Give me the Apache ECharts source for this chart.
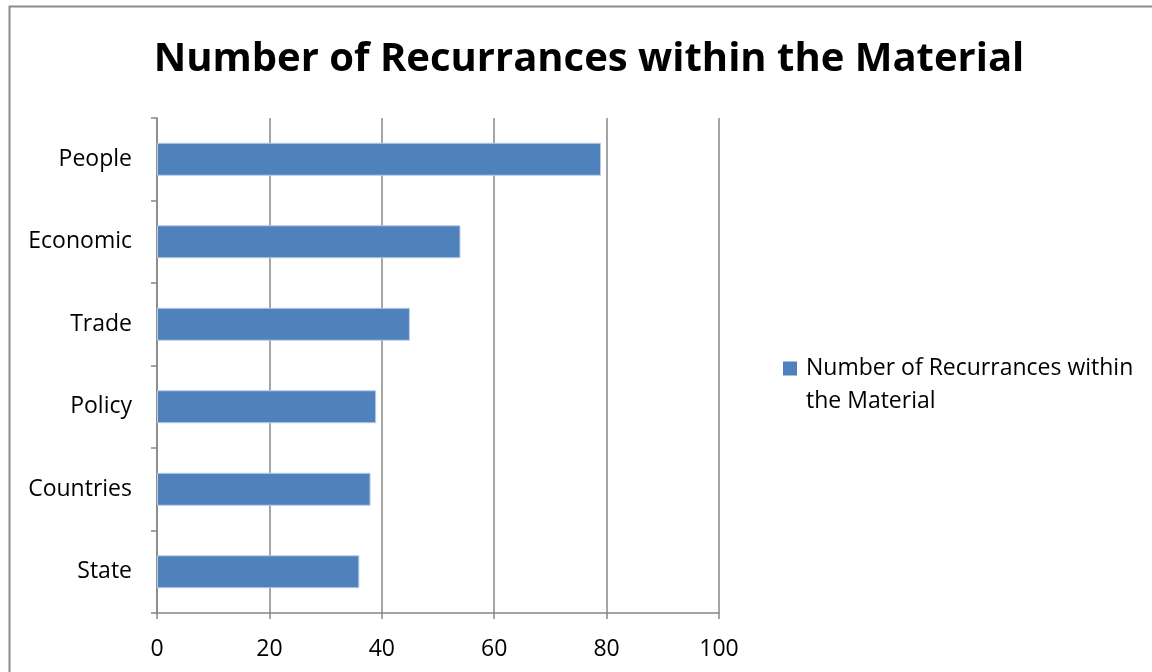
<!DOCTYPE html>
<html lang="en">
<head>
	<meta charset="UTF-8">
	<title>Number of Recurrances within the Material</title>
	<style>
		html, body { margin: 0; padding: 0; background: #fff; }
		#chart { width: 1152px; height: 672px; }
	</style>
</head>
<body>
	<div id="chart"></div>
<script src="https://cdn.jsdelivr.net/npm/echarts@6/dist/echarts.min.js"></script>
<script>
	var categories = ['People', 'Economic', 'Trade', 'Policy', 'Countries', 'State'];
	var counts = [79, 54, 45, 39, 38, 36];
	var xTicks = [0, 20, 40, 60, 80, 100];
	var seriesName = 'Number of Recurrances within the Material';

	var font = 'Open Sans';
	var axisGray = '#878787';

	var myChart = echarts.init(document.getElementById('chart'));
	var option = {
		animation: false,
		backgroundColor: '#fff',
		title: {
			text: seriesName,
			left: 584,
			top: 35,
			textAlign: 'center',
			textStyle: {
				fontFamily: font,
				fontWeight: 'bold',
				fontSize: 40,
				color: '#000'
			}
		},
		// outer frame of the chart area
		graphic: [{
			type: 'rect',
			shape: { x: 9.5, y: 6.5, width: 1300, height: 800 },
			style: { fill: null, stroke: '#8c8c8c', lineWidth: 2 },
			silent: true
		}],
		legend: {
			left: 778,
			top: 314,
			icon: 'rect',
			itemWidth: 14,
			itemHeight: 14,
			itemGap: 8,
			data: [seriesName],
			itemStyle: { borderWidth: 0 },
			// leading empty line puts the first real line level with the icon
			formatter: function () {
				return '\nNumber of Recurrances within\nthe Material';
			},
			textStyle: {
				fontFamily: font,
				fontSize: 23,
				lineHeight: 33,
				padding: [0, 0, 0, 4],
				color: '#000'
			}
		},
		grid: {
			left: 157,
			right: 433,
			top: 118,
			bottom: 59,
			containLabel: false
		},
		xAxis: {
			type: 'value',
			min: xTicks[0],
			max: xTicks[xTicks.length - 1],
			interval: xTicks[1] - xTicks[0],
			axisLine: { show: true, lineStyle: { color: axisGray, width: 1.5 } },
			axisTick: { show: true, length: 6, lineStyle: { color: axisGray, width: 1.5 } },
			axisLabel: {
				margin: 25,
				fontFamily: font,
				fontSize: 23,
				color: '#000'
			},
			splitLine: { show: true, lineStyle: { color: axisGray, width: 1.5 } }
		},
		yAxis: {
			type: 'category',
			inverse: true,
			data: categories,
			axisLine: { show: true, lineStyle: { color: axisGray, width: 1.5 } },
			axisTick: { show: true, length: 6, lineStyle: { color: axisGray, width: 1.5 } },
			axisLabel: {
				margin: 25,
				fontFamily: font,
				fontSize: 23,
				color: '#000'
			},
			splitLine: { show: false }
		},
		series: [{
			name: seriesName,
			type: 'bar',
			data: counts,
			barCategoryGap: '60%',
			itemStyle: {
				color: '#4f81bd',
				borderColor: '#b9cde5',
				borderWidth: 1
			}
		}]
	};
	myChart.setOption(option);
</script>
</body>
</html>
